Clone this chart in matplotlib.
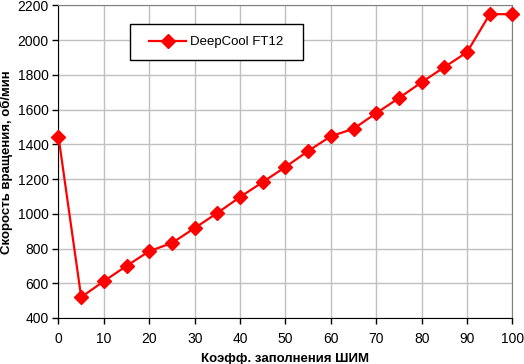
import matplotlib
matplotlib.use("Agg")
import matplotlib.pyplot as plt

plt.rcParams['font.family'] = ['Liberation Sans', 'DejaVu Sans']

# PWM duty cycle (%) and fan speed (rpm)
duty = [0, 5, 10, 15, 20, 25, 30, 35, 40, 45, 50,
        55, 60, 65, 70, 75, 80, 85, 90, 95, 100]
rpm = [1445, 520, 612, 700, 785, 832, 918, 1005, 1097, 1183, 1270,
       1362, 1447, 1490, 1580, 1667, 1758, 1845, 1931, 2150, 2150]

x_ticks = list(range(0, 101, 10))
y_ticks = list(range(400, 2201, 200))

fig = plt.figure(figsize=(5.24, 3.64), dpi=100)
ax = fig.add_axes([0.1116, 0.1264, 0.8664, 0.8585])

ax.plot(duty, rpm, color="#ff0000", lw=1.6, marker="D", ms=6.8,
        mec="#ff0000", mfc="#ff0000", label="DeepCool FT12", clip_on=False, zorder=3)

ax.set_xlim(0, 100)
ax.set_ylim(400, 2200)
ax.set_xticks(x_ticks)
ax.set_yticks(y_ticks)
ax.grid(True, color="#c0c0c0", lw=1)
ax.set_axisbelow(True)

for side in ("top", "right"):
    ax.spines[side].set_color("#808080")
for side in ("left", "bottom"):
    ax.spines[side].set_color("black")
ax.tick_params(direction="out", length=4, width=1, labelsize=10, colors="black")
ax.tick_params(axis="x", pad=6)
ax.tick_params(axis="y", pad=3)

ax.set_xlabel("Коэфф. заполнения ШИМ", fontsize=9.5, fontweight="bold", labelpad=5)
ax.set_ylabel("Скорость вращения, об/мин", fontsize=9.5, fontweight="bold", labelpad=3)

leg = ax.legend(loc="center", bbox_to_anchor=(0.348, 0.882), fontsize=9.5,
                frameon=True, fancybox=False, edgecolor="black", framealpha=1,
                handlelength=2.8, borderpad=0.9, borderaxespad=0, handletextpad=0.3)
leg.get_frame().set_linewidth(1)
leg.get_frame().set_boxstyle("square", pad=0.0)
leg._legend_box.set_width(150)

fig.savefig("out.png", dpi=100)
